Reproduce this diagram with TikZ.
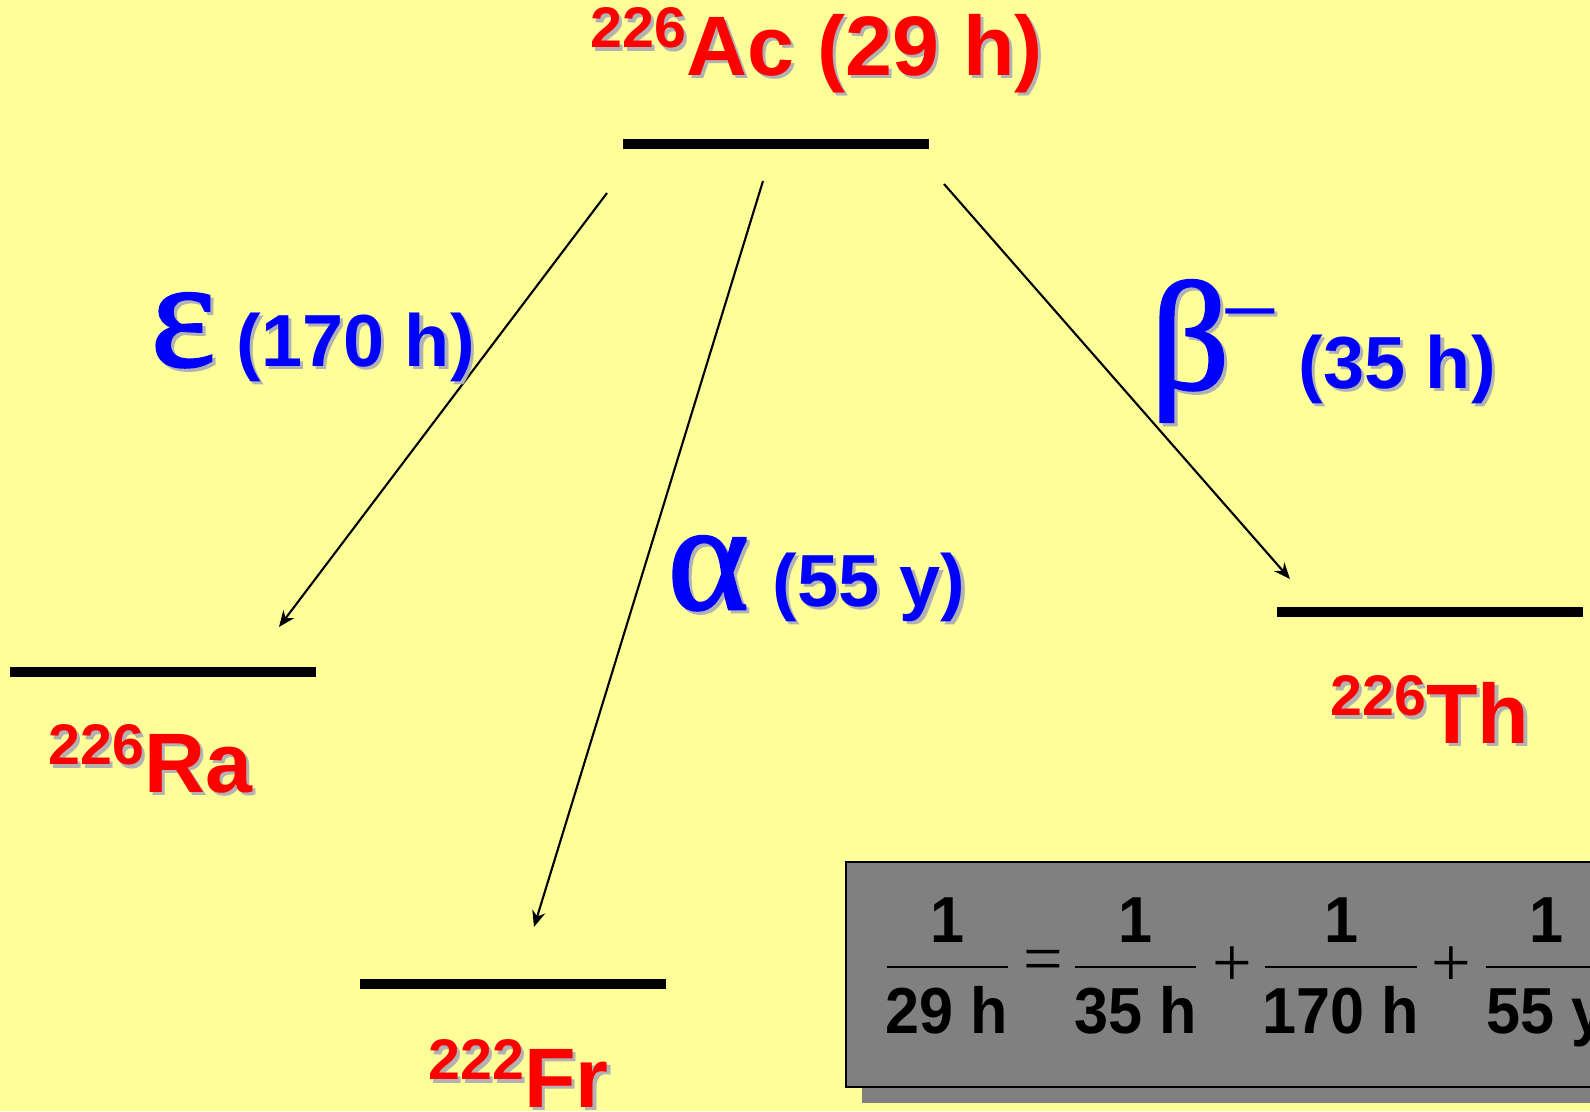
\documentclass[tikz,border=0pt]{standalone}
\usepackage{fontspec}
\setmainfont{Liberation Sans}
\newfontfamily\greekfont{Liberation Serif}
\newfontfamily\greekheavy[FakeBold=1.6]{Liberation Serif}
\newfontfamily\narrowfont[FakeStretch=0.94]{Liberation Sans}
\usetikzlibrary{arrows.meta}
\definecolor{bgyellow}{RGB}{255,255,153}
\definecolor{nuclred}{RGB}{255,0,0}
\definecolor{decayblue}{RGB}{0,0,255}
\definecolor{shadowgrey}{RGB}{178,178,178}
\definecolor{boxgrey}{RGB}{128,128,128}
\newcommand{\dropshadow}[2]{\rlap{\kern0.9pt\raisebox{-0.9pt}{\color{shadowgrey}#2}}{\color{#1}#2}}
\newcommand{\mass}[1]{\raisebox{7.7pt}{\fontsize{16.3}{16}\selectfont #1}}

\begin{document}
\begin{tikzpicture}[x=0.01cm,y=-0.01cm,
  statebar/.style={fill=black,inner sep=0pt,minimum width=3.06cm,minimum height=0.1cm},
  nuclide/.style={anchor=base west,inner sep=0pt,font=\fontsize{24}{24}\selectfont\bfseries},
  greek/.style={anchor=base west,inner sep=0pt,font=\greekheavy\fontsize{44}{44}\selectfont},
  halflife/.style={anchor=base west,inner sep=0pt,font=\fontsize{21}{21}\selectfont\bfseries},
  decay/.style={-{Stealth[length=4.6pt,width=3.8pt]},line width=0.6pt},
  fracnum/.style={anchor=base,inner sep=0pt,font=\narrowfont\fontsize{18.5}{18.5}\selectfont\bfseries},
  fracop/.style={inner sep=0pt,font=\greekfont\fontsize{20}{20}\selectfont}]
\useasboundingbox (0,0) rectangle (1590,1111);
\clip (0,0) rectangle (1590,1111);
\fill[bgyellow] (0,0) rectangle (1590,1111);
% levels
\node[statebar] (lvlac) at (776,144) {};
\node[statebar] (lvlra) at (163,672) {};
\node[statebar] (lvlth) at (1430,612) {};
\node[statebar] (lvlfr) at (513,984) {};
% nuclides
\node[nuclide] (ac) at (590,75) {\dropshadow{nuclred}{\mass{226}Ac (29 h)}};
\node[nuclide] (ra) at (48,792) {\dropshadow{nuclred}{\mass{226}Ra}};
\node[nuclide] (th) at (1330,743) {\dropshadow{nuclred}{\mass{226}Th}};
\node[nuclide] (fr) at (428,1107) {\dropshadow{nuclred}{\mass{222}Fr}};
% decays
\coordinate (acleft) at (607,193);
\coordinate (acmid) at (763,181);
\coordinate (acright) at (944,184);
\coordinate (raup) at (279,627);
\coordinate (frup) at (534,927);
\coordinate (thup) at (1290,579);
\draw[decay] (acleft) -- (raup);
\draw[decay] (acmid) -- (frup);
\draw[decay] (acright) -- (thup);
\node[greek] (eps) at (150,366) {\dropshadow{decayblue}{ε}};
\node[halflife] (epstime) at (236,366) {\dropshadow{decayblue}{(170 h)}};
\node[greek] (alpha) at (667,609) {\dropshadow{decayblue}{α}};
\node[halflife] (alphatime) at (772,606) {\dropshadow{decayblue}{(55 y)}};
\node[greek] (beta) at (1150,389) {\dropshadow{decayblue}{β}};
\node[greek,anchor=base,font=\greekfont\fontsize{30}{30}\selectfont] (betaminus) at (1250,346) {\dropshadow{decayblue}{−}};
\node[halflife] (betatime) at (1298,388) {\dropshadow{decayblue}{(35 h)}};
% branching sum
\fill[boxgrey] (862,878) rectangle (1600,1103);
\filldraw[fill=boxgrey,draw=black,line width=0.6pt] (846,862) rectangle (1600,1087);
\foreach \cx/\hw/\den [count=\i] in {947/60.5/29 h,1135.5/60.5/35 h,1341/76/170 h,1546/60.5/55 y}{
  \node[fracnum] (num\i) at (\cx,942) {1};
  \node[fracnum] (den\i) at (\cx,1033) {\den};
  \draw[line width=0.4pt] (\cx-\hw,967) -- (\cx+\hw,967);
}
\node[fracop] (eq) at (1043,966) {=};
\node[fracop] (plusa) at (1232,967) {+};
\node[fracop] (plusb) at (1451,967) {+};
\end{tikzpicture}
\end{document}
